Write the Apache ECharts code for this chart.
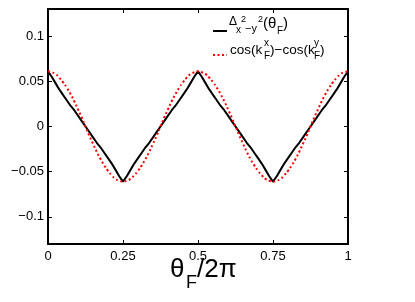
<!DOCTYPE html>
<html>
<head>
<meta charset="utf-8">
<script src="https://cdn.jsdelivr.net/npm/echarts@6/dist/echarts.min.js"></script>
<style>
html,body{margin:0;padding:0;background:#fff;}
#c{width:415px;height:302px;}
</style>
</head>
<body>
<div id="c"></div>
<script>
var theta = [0,0.0125,0.025,0.0375,0.05,0.0625,0.075,0.0875,0.1,0.1125,0.125,0.1375,0.15,0.1625,0.175,0.1875,0.2,0.2125,0.225,0.2375,0.25,
0.2625,0.275,0.2875,0.3,0.3125,0.325,0.3375,0.35,0.3625,0.375,0.3875,0.4,0.4125,0.425,0.4375,0.45,0.4625,0.475,0.4875,0.5,
0.5125,0.525,0.5375,0.55,0.5625,0.575,0.5875,0.6,0.6125,0.625,0.6375,0.65,0.6625,0.675,0.6875,0.7,0.7125,0.725,0.7375,0.75,
0.7625,0.775,0.7875,0.8,0.8125,0.825,0.8375,0.85,0.8625,0.875,0.8875,0.9,0.9125,0.925,0.9375,0.95,0.9625,0.975,0.9875,1];

var gapDelta = [0.061,0.055,0.048,0.041,0.035,0.029,0.023,0.018,0.012,0.006,0.000,-0.006,-0.012,-0.018,-0.023,-0.029,-0.035,-0.041,-0.048,-0.055,-0.061,
-0.055,-0.048,-0.041,-0.035,-0.029,-0.023,-0.018,-0.012,-0.006,0.000,0.006,0.012,0.018,0.023,0.029,0.035,0.041,0.048,0.055,0.061,
0.055,0.048,0.041,0.035,0.029,0.023,0.018,0.012,0.006,0.000,-0.006,-0.012,-0.018,-0.023,-0.029,-0.035,-0.041,-0.048,-0.055,-0.061,
-0.055,-0.048,-0.041,-0.035,-0.029,-0.023,-0.018,-0.012,-0.006,0.000,0.006,0.012,0.018,0.023,0.029,0.035,0.041,0.048,0.055,0.061];

var cosDiff = [0.061,0.060,0.058,0.054,0.049,0.043,0.036,0.028,0.019,0.010,0.000,-0.010,-0.019,-0.028,-0.036,-0.043,-0.049,-0.054,-0.058,-0.060,-0.061,
-0.060,-0.058,-0.054,-0.049,-0.043,-0.036,-0.028,-0.019,-0.010,0.000,0.010,0.019,0.028,0.036,0.043,0.049,0.054,0.058,0.060,0.061,
0.060,0.058,0.054,0.049,0.043,0.036,0.028,0.019,0.010,0.000,-0.010,-0.019,-0.028,-0.036,-0.043,-0.049,-0.054,-0.058,-0.060,-0.061,
-0.060,-0.058,-0.054,-0.049,-0.043,-0.036,-0.028,-0.019,-0.010,0.000,0.010,0.019,0.028,0.036,0.043,0.049,0.054,0.058,0.060,0.061];

var xTickLabels = ['0', '0.25', '0.5', '0.75', '1'];
var yTickLabels = ['\u22120.1', '\u22120.05', '0', '0.05', '0.1'];

function pairs(xs, ys){ var o=[]; for(var i=0;i<xs.length;i++){ o.push([xs[i], ys[i]]); } return o; }

var FONT = 'Liberation Sans, Arial, Helvetica, sans-serif';
var axisLineStyle = {show:true, onZero:false, lineStyle:{color:'#000', width:2}};
var tick = {show:true, inside:true, length:4, lineStyle:{color:'#000', width:1}};

function yFmt(v){
  var r = Math.round(v*100)/100;
  var map = {'-0.1':yTickLabels[0], '-0.05':yTickLabels[1], '0':yTickLabels[2], '0.05':yTickLabels[3], '0.1':yTickLabels[4]};
  var k = String(r);
  return map.hasOwnProperty(k) ? map[k] : '';
}
function xFmt(v){
  var idx = Math.round(v*4);
  return xTickLabels[idx] || '';
}

function T(x, y, text, size){
  var s = {text:text, fontSize:size, fontFamily:FONT, fill:'#000', verticalAlign:'middle', align:'left'};
  return {type:'text', x:x, y:y, style:s, z:100};
}

var chart = echarts.init(document.getElementById('c'), null, {renderer:'canvas'});
chart.setOption({
  animation:false,
  backgroundColor:'#fff',
  grid:{left:48, right:67, top:9, bottom:58, containLabel:false},
  xAxis:[
    {type:'value', min:0, max:1, interval:0.25, position:'bottom',
     axisLine:axisLineStyle, axisTick:tick, splitLine:{show:false},
     axisLabel:{color:'#000', fontSize:13, fontFamily:FONT, margin:6, formatter:xFmt}},
    {type:'value', min:0, max:1, interval:0.25, position:'top',
     axisLine:axisLineStyle, axisTick:tick, splitLine:{show:false}, axisLabel:{show:false}}
  ],
  yAxis:[
    {type:'value', min:-0.13, max:0.13, splitNumber:5, position:'left',
     axisLine:axisLineStyle, splitLine:{show:false}, axisTick:tick,
     axisLabel:{color:'#000', fontSize:13, fontFamily:FONT, margin:4, showMinLabel:false, showMaxLabel:false,
       formatter:yFmt}},
    {type:'value', min:-0.13, max:0.13, splitNumber:5, position:'right',
     axisLine:axisLineStyle, splitLine:{show:false}, axisTick:tick, axisLabel:{show:false}}
  ],
  series:[
    {type:'line', name:'delta', data:pairs(theta, gapDelta), showSymbol:false, symbol:'none',
     lineStyle:{color:'#000', width:2}, z:3},
    {type:'line', name:'cos', data:pairs(theta, cosDiff), showSymbol:false, symbol:'none', smooth:true,
     lineStyle:{color:'#ff0000', width:2, type:[2,2.5]}, z:4}
  ],
  graphic:[
    {type:'line', shape:{x1:213, y1:31, x2:227, y2:31}, style:{stroke:'#000', lineWidth:2}, z:100},
    {type:'line', shape:{x1:213, y1:55, x2:227, y2:55}, style:{stroke:'#ff0000', lineWidth:2, lineDash:[2,2.5]}, z:100},
    T(229, 22, '\u0394', 12),
    T(236, 30, 'x', 10),
    T(241, 20, '2', 9),
    T(245, 29, '\u2212y', 11),
    T(258, 20, '2', 9),
    T(263, 24, '(\u03b8', 15),
    T(277, 31, 'F', 10),
    T(283, 24, ')', 15),

    T(230, 50, 'cos(k', 13.5),
    T(264, 43, 'x', 10),
    T(264, 56, 'F', 10),
    T(270, 50, ')\u2212cos(k', 13.5),
    T(314, 43, 'y', 10),
    T(314, 56, 'F', 10),
    T(320, 50, ')', 13.5),

    T(170, 270, '\u03b8', 26),
    T(186, 283, 'F', 18),
    T(197, 270, '/2\u03c0', 26)
  ]
});
</script>
</body>
</html>
